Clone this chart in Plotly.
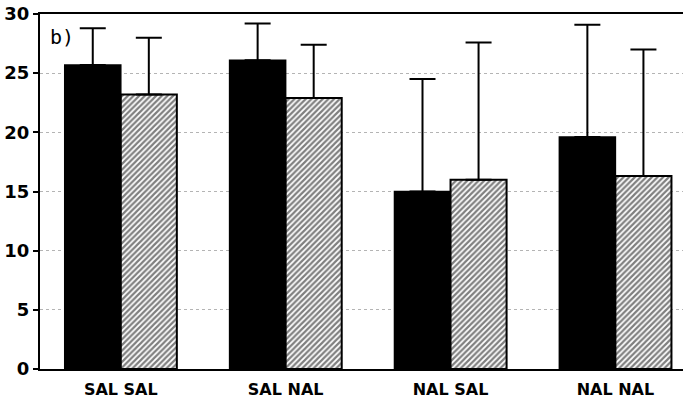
import plotly.graph_objects as go

# Treatment groups and per-group means with upper error (SD) values
categories = ["SAL SAL", "SAL NAL", "NAL SAL", "NAL NAL"]
solid_values = [25.7, 26.1, 15.0, 19.6]
solid_errors = [3.1, 3.1, 9.5, 9.5]
hatched_values = [23.2, 22.9, 16.0, 16.3]
hatched_errors = [4.8, 4.5, 11.6, 10.7]
y_ticks = [0, 5, 10, 15, 20, 25, 30]

fig = go.Figure()

err_style = dict(type="data", symmetric=False, thickness=2, width=13, color="black")

fig.add_trace(go.Bar(
    x=categories, y=solid_values,
    marker=dict(color="black", line=dict(color="black", width=1.5)),
    error_y=dict(array=solid_errors, arrayminus=[0] * len(solid_errors), **err_style),
    showlegend=False,
))
fig.add_trace(go.Bar(
    x=categories, y=hatched_values,
    marker=dict(color="white", line=dict(color="black", width=2),
                pattern=dict(shape="/", fgcolor="black", bgcolor="white",
                             size=4, solidity=0.55)),
    error_y=dict(array=hatched_errors, arrayminus=[0] * len(hatched_errors), **err_style),
    showlegend=False,
))

fig.update_layout(
    width=686, height=403,
    margin=dict(l=40, r=3, t=12, b=34),
    barmode="group", bargap=0.32, bargroupgap=0,
    plot_bgcolor="white", paper_bgcolor="white",
    font=dict(family="DejaVu Sans", color="black"),
)

fig.update_xaxes(
    range=[-0.49, 3.41],
    showline=True, linecolor="black", linewidth=2, mirror=True,
    ticks="", showgrid=False, ticklabelstandoff=5,
    tickfont=dict(size=16, family="DejaVu Sans", weight="bold"),
)
fig.update_yaxes(
    range=[0, 30], tickvals=y_ticks,
    showline=True, linecolor="black", linewidth=2,
    ticks="outside", ticklen=5, tickwidth=1.5, tickcolor="black",
    showgrid=True, gridcolor="#b4b4b4", gridwidth=1, griddash="dot",
    zeroline=False,
    tickfont=dict(size=18, family="DejaVu Sans", weight="bold"),
)

fig.add_annotation(
    x=0.012, y=0.975, xref="paper", yref="paper",
    text="b)", showarrow=False, xanchor="left", yanchor="top",
    font=dict(size=20, family="DejaVu Sans Mono", color="black"),
)

fig.write_html("out.html")
